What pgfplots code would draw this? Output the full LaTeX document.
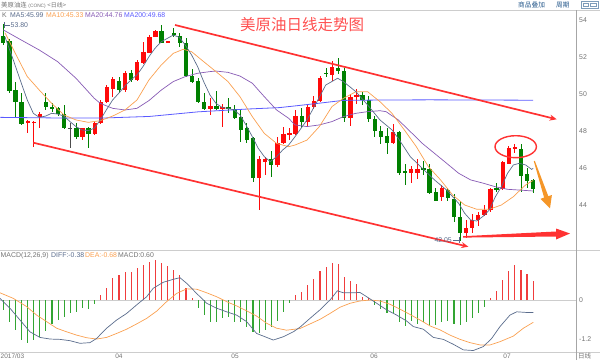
\documentclass[border=0pt]{standalone}
\usepackage{pgfplots}
\pgfplotsset{compat=1.18}
\usepackage{pgfplotstable}
\usetikzlibrary{arrows.meta}
\usepackage{fontspec}
\setmainfont{Liberation Sans}
\newfontfamily\cjk{Noto Sans CJK SC}

\definecolor{upred}{RGB}{255,10,10}
\definecolor{dngreen}{RGB}{0,128,0}
\definecolor{ma5c}{RGB}{90,108,140}
\definecolor{ma10c}{RGB}{250,160,80}
\definecolor{ma20c}{RGB}{135,90,180}
\definecolor{ma200c}{RGB}{90,90,255}
\definecolor{trend}{RGB}{255,50,50}
\definecolor{titlered}{RGB}{255,80,80}
\definecolor{arroworange}{RGB}{245,150,40}
\definecolor{txtgray}{RGB}{115,115,115}
\definecolor{linkblue}{RGB}{40,90,140}
\definecolor{framegray}{RGB}{205,205,205}
\definecolor{macdred}{RGB}{240,60,60}
\definecolor{macdgreen}{RGB}{50,165,50}

\pgfplotstableread{
i o h l c
4 48.47 48.61 47.88 48.53
5 48.45 48.55 47.13 48.51
6 48.75 49.06 48.16 48.93
13 47.67 48.20 47.50 48.16
15 47.85 48.52 47.80 48.43
16 48.43 49.69 48.40 49.60
17 49.60 50.50 49.55 50.38
18 50.27 50.96 49.87 50.83
20 50.23 51.26 50.14 51.14
22 50.78 51.86 50.74 51.73
23 51.68 52.85 51.64 52.31
24 52.26 53.21 52.22 53.09
25 53.12 53.49 53.09 53.43
27 52.82 52.89 52.80 52.89
34 49.19 49.78 48.88 49.37
36 49.20 49.47 48.21 49.33
42 45.45 46.66 43.73 46.48
43 46.35 46.62 45.63 46.48
45 46.17 47.70 46.08 47.34
46 47.34 48.21 47.31 47.83
47 47.78 48.20 47.50 47.89
48 47.85 49.15 47.80 48.82
50 48.50 49.50 48.30 49.31
51 49.31 49.90 49.20 49.65
52 49.65 51.00 49.60 50.87
54 51.05 51.80 50.70 51.50
57 48.70 50.00 48.30 49.84
58 49.87 50.30 49.50 49.96
64 47.38 48.40 47.30 47.97
67 45.72 46.10 45.20 45.93
68 45.72 46.50 45.40 45.93
72 44.45 45.10 44.20 44.90
76 42.50 43.20 42.20 42.74
77 42.74 43.50 42.50 43.19
78 43.19 43.60 42.85 43.46
79 43.46 44.00 43.40 43.73
80 43.73 44.90 43.60 44.87
82 44.87 46.40 44.80 46.31
83 46.23 47.20 46.20 47.07
84 47.05 47.30 46.80 47.12
}\upcandles

\pgfplotstableread{
i o h l c
0 53.16 53.80 52.67 52.76
1 52.91 52.98 50.05 50.18
2 50.23 50.69 48.79 49.60
3 49.60 50.09 48.34 48.37
7 49.60 50.09 49.15 49.29
8 49.31 49.51 49.06 49.25
9 49.24 49.33 48.82 48.93
10 48.93 49.42 48.10 48.16
12 48.16 48.43 47.56 47.67
14 48.16 48.25 47.07 47.85
19 50.72 50.96 50.05 50.23
21 51.17 51.32 50.69 50.78
26 53.43 53.76 52.76 52.80
28 53.31 53.58 53.12 53.24
29 53.16 53.30 52.58 52.76
30 52.76 53.03 50.96 50.99
31 50.99 51.35 50.63 50.69
32 50.72 50.87 49.51 49.60
33 49.60 50.05 49.15 49.19
35 49.37 50.20 49.15 49.19
37 49.29 49.78 48.97 49.22
38 49.19 49.42 48.64 48.70
39 48.79 49.15 47.43 48.07
40 48.16 48.43 47.34 47.52
41 47.61 47.70 45.27 45.45
44 46.48 46.90 45.54 46.17
49 48.82 49.24 48.20 48.50
53 51.16 51.40 50.95 51.10
55 51.41 51.98 51.10 51.28
56 51.28 51.40 48.50 48.70
59 49.96 50.10 49.40 49.69
60 49.69 49.90 48.50 48.64
61 48.64 48.80 47.70 48.03
62 48.03 48.30 47.30 47.70
63 47.74 48.20 46.75 47.38
65 47.97 48.00 45.60 45.75
66 45.84 46.20 45.10 45.72
69 46.00 46.40 45.60 45.93
70 45.93 46.20 44.60 44.67
71 44.72 44.90 44.20 44.24
73 44.81 44.90 44.20 44.36
74 44.31 44.60 43.10 43.37
75 43.37 44.20 42.05 42.50
81 44.92 45.20 44.70 44.85
85 47.02 47.30 44.70 45.59
86 45.66 46.00 44.90 45.32
87 45.35 45.40 44.65 44.87
}\dncandles

\pgfplotstableread{
i o h l c
11 48.17 48.43 47.07 48.13
}\flatcandles

\pgfplotstableread{
x y
0.27 53.12
1.64 51.86
2.96 50.60
3.94 49.69
4.93 48.97
5.91 48.75
6.95 48.82
7.94 48.97
8.92 48.93
9.96 48.82
10.95 48.52
11.93 48.25
12.92 48.07
13.96 48.03
14.94 48.16
15.93 48.61
16.91 49.15
17.95 49.69
18.94 50.05
19.98 50.45
20.96 50.78
21.95 51.05
22.93 51.50
23.92 52.04
24.90 52.49
25.94 52.85
26.93 53.03
27.91 53.21
28.90 53.09
29.88 52.67
30.92 52.13
31.91 51.50
32.90 50.69
33.94 49.96
34.92 49.51
35.91 49.29
36.89 49.24
37.88 49.15
38.86 48.88
39.85 48.34
40.89 47.70
41.87 47.07
42.86 46.62
43.84 46.35
44.88 46.62
45.87 46.98
46.85 47.25
47.90 47.70
49.87 48.61
51.90 49.84
52.93 50.50
54.90 50.87
55.84 50.69
57.90 50.14
59.83 49.42
61.85 48.61
63.82 48.07
64.86 47.61
66.83 46.62
68.80 45.99
70.80 45.36
72.80 44.81
74.77 44.09
75.76 43.55
76.74 43.19
77.73 43.13
78.83 43.40
79.81 43.73
80.80 44.45
81.79 44.99
82.80 45.72
83.75 46.17
84.73 46.26
85.77 46.17
86.76 45.93
87.00 45.99
}\mafive

\pgfplotstableread{
x y
0.27 53.34
1.97 52.22
3.94 50.96
5.91 50.23
7.94 49.51
9.96 48.88
11.93 48.61
13.96 48.48
15.93 48.57
17.95 48.82
19.98 49.15
21.95 49.69
23.92 50.78
25.94 51.59
27.91 52.22
29.56 52.44
30.92 52.31
32.90 51.77
34.92 51.23
36.89 50.69
38.86 49.87
40.89 48.79
42.86 47.88
44.88 47.34
46.85 47.16
47.90 47.25
49.87 47.52
51.90 48.25
53.96 49.33
55.84 49.78
57.90 50.14
59.83 50.14
61.85 49.60
63.82 48.97
65.85 48.07
67.82 47.16
69.80 46.08
71.80 45.36
73.79 44.54
75.76 44.00
77.73 43.77
79.81 43.77
81.79 44.00
83.75 44.45
85.77 45.09
87.00 45.33
}\maten

\pgfplotstableread{
x y
0.00 53.49
2.96 52.94
5.91 52.40
8.92 51.77
11.93 50.87
14.94 49.78
15.93 49.51
17.95 49.24
19.98 49.15
21.95 49.24
23.92 49.66
25.94 50.23
27.91 50.69
29.88 50.96
31.91 51.14
33.94 51.23
34.92 51.26
36.89 51.19
38.86 50.99
40.89 50.60
42.86 49.87
44.88 49.15
46.85 48.70
47.90 48.34
49.87 48.25
51.90 48.34
53.96 48.52
55.84 48.79
57.90 48.97
59.83 49.06
61.85 49.11
62.84 49.06
64.86 48.61
66.83 47.98
68.80 47.34
70.80 46.80
72.80 46.26
74.77 45.72
76.74 45.36
78.83 45.18
80.80 44.99
82.80 44.85
84.73 44.81
87.00 44.76
}\matwenty

\pgfplotstableread{
x y
-0.5 48.75
8 48.72
16 48.71
24 48.80
32 49.05
40 49.20
45.4 49.28
50.9 49.48
55.8 49.67
62 49.69
70 49.70
87 49.68
}\matwohundred

\pgfplotstableread{
i m
0 -0.30
1 -0.66
2 -0.91
3 -1.22
4 -1.30
5 -1.22
6 -1.12
7 -0.93
8 -0.73
9 -0.61
10 -0.51
11 -0.41
12 -0.36
13 -0.25
14 -0.28
15 -0.13
16 0.15
17 0.36
18 0.66
19 0.76
20 0.84
21 0.84
22 0.97
23 1.07
24 1.17
25 1.22
26 1.12
27 1.04
28 0.91
29 0.76
30 0.36
31 0.07
32 -0.25
33 -0.46
34 -0.66
35 -0.66
36 -0.56
37 -0.51
38 -0.66
39 -0.66
40 -0.81
41 -0.97
42 -1.00
43 -0.91
44 -0.81
45 -0.63
46 -0.36
47 -0.10
48 0.15
49 0.25
50 0.46
51 0.63
52 0.88
53 1.02
54 1.12
55 1.10
56 0.71
57 0.59
58 0.48
59 0.10
60 0.05
61 -0.15
62 -0.28
63 -0.41
64 -0.41
65 -0.66
66 -0.79
67 -0.63
68 -0.73
69 -0.66
70 -0.76
71 -0.76
72 -0.66
73 -0.63
74 -0.73
75 -0.76
76 -0.66
77 -0.56
78 -0.39
79 -0.22
80 0.07
81 0.28
82 0.61
83 0.89
84 1.07
85 0.91
86 0.79
87 0.59
}\macdhist

\pgfplotstableread{
x y
-0.55 0.05
1.09 -0.25
2.74 -0.61
4.38 -0.97
6.02 -1.14
7.66 -1.19
9.30 -1.20
10.95 -1.24
12.59 -1.32
14.23 -1.30
15.33 -1.17
16.97 -0.86
18.61 -0.61
20.25 -0.41
21.89 -0.15
23.54 0.10
24.63 0.36
26.27 0.54
27.91 0.63
29.01 0.68
30.10 0.51
31.75 0.20
33.39 -0.10
35.03 -0.25
36.67 -0.36
38.31 -0.46
39.96 -0.66
41.60 -1.02
43.24 -1.14
44.33 -1.22
45.98 -1.12
47.62 -0.97
48.71 -0.83
50.36 -0.56
52.00 -0.30
53.65 0.00
54.85 0.28
55.84 0.22
57.48 0.22
58.57 0.23
59.67 0.10
61.31 -0.10
62.95 -0.30
64.59 -0.46
66.23 -0.64
67.33 -0.81
68.97 -0.89
70.61 -1.14
72.25 -1.20
73.90 -1.35
75.54 -1.52
77.18 -1.54
78.82 -1.42
80.20 -1.17
81.56 -0.81
83.20 -0.46
84.30 -0.36
85.94 -0.38
87.03 -0.38
}\diffline

\pgfplotstableread{
x y
-0.55 0.22
1.64 0.05
3.83 -0.20
5.47 -0.46
7.12 -0.66
8.76 -0.86
10.40 -0.97
12.04 -1.07
13.68 -1.15
15.33 -1.19
16.97 -1.14
18.61 -1.02
20.25 -0.89
21.89 -0.73
23.54 -0.56
25.18 -0.34
26.82 -0.05
28.46 0.20
30.10 0.34
31.75 0.33
33.39 0.22
35.03 0.10
36.67 -0.05
38.31 -0.18
39.96 -0.33
41.60 -0.49
43.24 -0.71
44.88 -0.86
46.52 -0.92
48.71 -0.87
50.36 -0.73
52.00 -0.59
53.65 -0.41
55.29 -0.22
56.94 -0.10
58.57 -0.03
60.22 0.00
61.86 -0.03
63.50 -0.13
65.14 -0.28
66.78 -0.44
68.43 -0.61
70.07 -0.79
71.71 -0.91
73.35 -1.07
75.00 -1.20
76.64 -1.30
78.28 -1.37
79.92 -1.37
81.56 -1.27
83.75 -1.10
85.40 -0.86
87.03 -0.68
}\dealine

\pgfplotsset{
  kpanel/.style={
    scale only axis, width=576pt,
    xmin=-0.542, xmax=94.04,
    axis line style={draw=none}, xtick=\empty, major tick length=0pt,
    yticklabel pos=right,
    yticklabel style={font=\fontsize{6.9}{8}\selectfont, text=txtgray, inner sep=0pt, xshift=3pt},
    /pgf/number format/assume math mode=true,
  },
  wick/.style={only marks, mark=*, mark size=0pt, mark options={draw=none, fill=none}, forget plot,
    error bars/.cd, y dir=both, y explicit, error mark=none,
    error bar style={#1, line width=0.9pt}},
  body/.style={only marks, mark=*, mark size=0pt, mark options={draw=none, fill=none}, forget plot,
    error bars/.cd, y dir=both, y explicit, error mark=none,
    error bar style={#1, line width=4.3pt}},
}

\begin{document}
\begin{tikzpicture}
\path[use as bounding box] (0pt,0pt) rectangle (600pt,360pt);
% frames
\draw[framegray, line width=0.8pt] (0pt,350pt) -- (600pt,350pt);
\draw[framegray, line width=0.8pt] (0pt,110pt) -- (600pt,110pt);
\draw[framegray, line width=0.8pt] (0pt,8pt) -- (600pt,8pt);
\draw[gray!70, line width=0.8pt] (576pt,0pt) -- (576pt,350pt);

\begin{axis}[kpanel, at={(0pt,350pt)}, anchor=north west, height=240pt,
  ymin=41.561, ymax=54.569, ytick={44,46,48,50,52,54}]
  \addplot[wick=upred] table[x=i, y expr={(\thisrow{h}+\thisrow{l})/2}, y error expr={(\thisrow{h}-\thisrow{l})/2}] {\upcandles};
  \addplot[body=upred] table[x=i, y expr={(\thisrow{o}+\thisrow{c})/2}, y error expr={abs(\thisrow{c}-\thisrow{o})/2}] {\upcandles};
  \addplot[wick=dngreen] table[x=i, y expr={(\thisrow{h}+\thisrow{l})/2}, y error expr={(\thisrow{h}-\thisrow{l})/2}] {\dncandles};
  \addplot[body=dngreen] table[x=i, y expr={(\thisrow{o}+\thisrow{c})/2}, y error expr={abs(\thisrow{c}-\thisrow{o})/2}] {\dncandles};
  \addplot[wick=black!70] table[x=i, y expr={(\thisrow{h}+\thisrow{l})/2}, y error expr={(\thisrow{h}-\thisrow{l})/2}] {\flatcandles};
  \addplot[body=black!70] table[x=i, y expr={(\thisrow{o}+\thisrow{c})/2}, y error expr={abs(\thisrow{c}-\thisrow{o})/2}] {\flatcandles};
  \addplot[ma200c, line width=0.8pt, mark=none] table[x=x,y=y] {\matwohundred};
  \addplot[ma20c, line width=0.7pt, mark=none] table[x=x,y=y] {\matwenty};
  \addplot[ma10c, line width=0.7pt, mark=none] table[x=x,y=y] {\maten};
  \addplot[ma5c, line width=0.7pt, mark=none] table[x=x,y=y] {\mafive};
\end{axis}

\begin{axis}[kpanel, at={(0pt,108pt)}, anchor=north west, height=100pt,
  ymin=-1.585, ymax=1.463, ytick={-1.2,0}, yticklabels={-1.2,0}]
  \addplot[framegray, line width=0.6pt, mark=none, forget plot] coordinates {(-0.542,0) (94.04,0)};
  \addplot[ycomb, macdred, line width=1.1pt, mark=none, restrict y to domain=0:5] table[x=i,y=m] {\macdhist};
  \addplot[ycomb, macdgreen, line width=1.1pt, mark=none, restrict y to domain=-5:0] table[x=i,y=m] {\macdhist};
  \addplot[ma10c, line width=0.7pt, mark=none] table[x=x,y=y] {\dealine};
  \addplot[ma5c, line width=0.7pt, mark=none] table[x=x,y=y] {\diffline};
\end{axis}

% annotations
\draw[trend, line width=1.7pt, -{Stealth[length=7pt,width=6pt]}] (175pt,335pt) -- (556.7pt,240.7pt);
\draw[trend, line width=1.7pt, -{Stealth[length=7pt,width=6pt]}] (33.3pt,217.3pt) -- (468.3pt,113.3pt);
\fill[trend] (463pt,123.8pt) -- (556pt,128.5pt) -- (556pt,131.5pt) -- (570pt,126.5pt) -- (556pt,120.5pt) -- (556pt,123.5pt) -- (463pt,122.4pt) -- cycle;
\fill[arroworange] (534.8pt,199.2pt) -- (548.3pt,163.8pt) -- (551.9pt,165pt) -- (550pt,151.7pt) -- (540.5pt,161.2pt) -- (544.1pt,162.4pt) -- (533.8pt,198.8pt) -- cycle;
\draw[trend, line width=1.4pt] (515.7pt,213.3pt) ellipse [x radius=20.7pt, y radius=11pt];

% title
\node[text=titlered, font=\cjk\fontsize{15.5}{17}\selectfont, inner sep=0pt] at (302pt,335pt) {美原油日线走势图};

% price marks
\draw[ma5c, line width=0.6pt] (4pt,338pt) -- (4pt,332pt) (4pt,335pt) -- (10pt,335pt);
\node[anchor=west, inner sep=0pt, text=ma5c, font=\fontsize{6.9}{8}\selectfont] at (10.5pt,335pt) {53.80};
\draw[ma5c, line width=0.6pt] (452.5pt,120pt) -- (459pt,120pt) (459pt,123pt) -- (459pt,117pt);
\node[anchor=east, inner sep=0pt, text=ma5c, font=\fontsize{6.9}{8}\selectfont] at (452pt,120pt) {42.05};

% header
\node[anchor=west, inner sep=0pt, text=txtgray] at (1pt,355pt) {{\cjk\fontsize{6.4}{7}\selectfont 美原油连}\,{\fontsize{4.8}{6}\selectfont (CONC)}\,{\cjk\fontsize{6}{7}\selectfont <日线>}};
\node[anchor=west, inner sep=0pt, text=linkblue, font=\cjk\fontsize{6.7}{7}\selectfont] at (518pt,355pt) {商品叠加};
\node[anchor=west, inner sep=0pt, text=linkblue, font=\cjk\fontsize{6.7}{7}\selectfont] at (556pt,355pt) {周期};
\draw[linkblue!60, line width=0.5pt] (581pt,352pt) rectangle (598pt,358.5pt);
\draw[linkblue!60, line width=0.5pt] (583pt,353.5pt) rectangle (588.5pt,357pt) (590.5pt,353.5pt) rectangle (596pt,357pt);

\begin{scope}[every node/.style={anchor=west, inner sep=0pt, font=\fontsize{6.9}{8}\selectfont}]
\node[text=txtgray] at (2pt,345pt) {K};
\node[text=ma5c] at (10pt,345pt) {MA5:45.99};
\node[text=ma10c] at (46pt,345pt) {MA10:45.33};
\node[text=ma20c] at (85pt,345pt) {MA20:44.76};
\node[text=ma200c] at (124pt,345pt) {MA200:49.68};
\node[text=txtgray] at (0.5pt,104.5pt) {MACD(12,26,9)};
\node[text=ma5c] at (51pt,104.5pt) {DIFF:-0.38};
\node[text=ma10c] at (85pt,104.5pt) {DEA:-0.68};
\node[text=txtgray] at (118pt,104.5pt) {MACD:0.60};
\end{scope}

% bottom dates
\begin{scope}[every node/.style={inner sep=0pt, text=txtgray, font=\fontsize{6.5}{7}\selectfont}]
\node[anchor=west] at (0.5pt,4pt) {2017/03};
\node at (119pt,4pt) {04};
\node at (235pt,4pt) {05};
\node at (374pt,4pt) {06};
\node at (507pt,4pt) {07};
\node[anchor=west, font=\cjk\fontsize{6.5}{7}\selectfont] at (578pt,4pt) {日线};
\end{scope}
\end{tikzpicture}
\end{document}
